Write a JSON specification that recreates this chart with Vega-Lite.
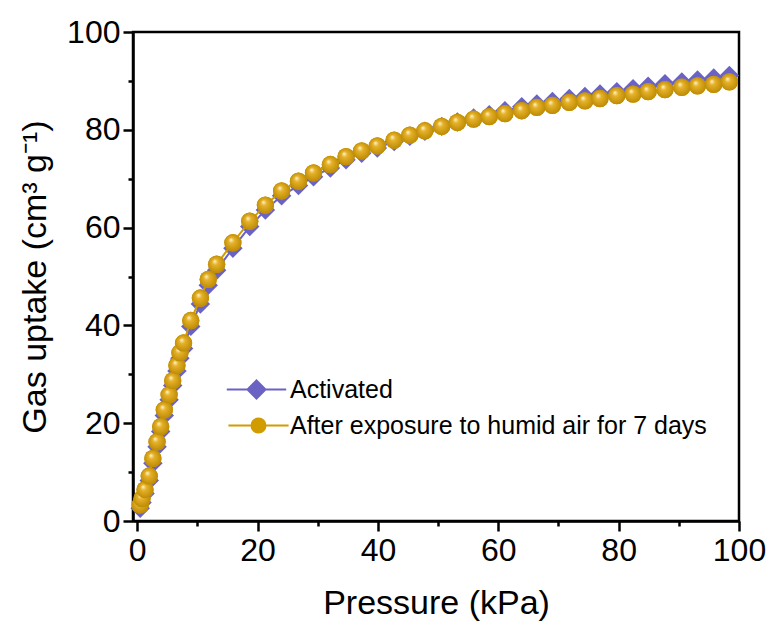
{
  "$schema": "https://vega.github.io/schema/vega-lite/v6.json",
  "width": 606,
  "height": 489,
  "autosize": "none",
  "padding": {"left": 133, "top": 32, "right": 31, "bottom": 105},
  "background": "white",
  "config": {
    "font": "Liberation Sans",
    "view": {"stroke": "black", "strokeWidth": 2.5},
    "axis": {
      "domainColor": "black", "domainWidth": 2.5,
      "tickColor": "black", "tickWidth": 2.5,
      "labelColor": "black", "titleColor": "black",
      "labelFont": "Liberation Sans", "titleFont": "Liberation Sans",
      "labelFontSize": 32, "titleFontSize": 34, "titleFontWeight": "normal",
      "grid": false, "labelOverlap": false, "labelFlush": false
    }
  },
  "datasets": {
    "iso": [
      {"series": "Activated", "p": 0.5, "u": 2.6},
      {"series": "Activated", "p": 0.8, "u": 3.8},
      {"series": "Activated", "p": 1.3, "u": 5.6},
      {"series": "Activated", "p": 2.0, "u": 8.3},
      {"series": "Activated", "p": 2.6, "u": 11.8},
      {"series": "Activated", "p": 3.3, "u": 15.2},
      {"series": "Activated", "p": 3.9, "u": 18.3},
      {"series": "Activated", "p": 4.5, "u": 21.6},
      {"series": "Activated", "p": 5.3, "u": 24.8},
      {"series": "Activated", "p": 5.9, "u": 27.7},
      {"series": "Activated", "p": 6.6, "u": 30.7},
      {"series": "Activated", "p": 7.1, "u": 33.3},
      {"series": "Activated", "p": 7.7, "u": 35.3},
      {"series": "Activated", "p": 8.9, "u": 39.8},
      {"series": "Activated", "p": 10.5, "u": 44.4},
      {"series": "Activated", "p": 11.8, "u": 48.2},
      {"series": "Activated", "p": 13.2, "u": 51.3},
      {"series": "Activated", "p": 15.9, "u": 55.8},
      {"series": "Activated", "p": 18.7, "u": 60.2},
      {"series": "Activated", "p": 21.3, "u": 63.6},
      {"series": "Activated", "p": 24.0, "u": 66.5},
      {"series": "Activated", "p": 26.8, "u": 68.6},
      {"series": "Activated", "p": 29.3, "u": 70.4},
      {"series": "Activated", "p": 32.1, "u": 72.2},
      {"series": "Activated", "p": 34.7, "u": 73.9},
      {"series": "Activated", "p": 37.3, "u": 75.2},
      {"series": "Activated", "p": 39.9, "u": 76.3},
      {"series": "Activated", "p": 42.7, "u": 77.6},
      {"series": "Activated", "p": 45.3, "u": 78.7},
      {"series": "Activated", "p": 47.8, "u": 79.7},
      {"series": "Activated", "p": 50.6, "u": 80.7},
      {"series": "Activated", "p": 53.2, "u": 81.6},
      {"series": "Activated", "p": 55.9, "u": 82.4},
      {"series": "Activated", "p": 58.5, "u": 83.1},
      {"series": "Activated", "p": 61.1, "u": 83.9},
      {"series": "Activated", "p": 63.9, "u": 84.7},
      {"series": "Activated", "p": 66.4, "u": 85.3},
      {"series": "Activated", "p": 69.0, "u": 85.8},
      {"series": "Activated", "p": 71.8, "u": 86.4},
      {"series": "Activated", "p": 74.4, "u": 86.8},
      {"series": "Activated", "p": 76.9, "u": 87.3},
      {"series": "Activated", "p": 79.7, "u": 87.8},
      {"series": "Activated", "p": 82.4, "u": 88.4},
      {"series": "Activated", "p": 84.9, "u": 88.9},
      {"series": "Activated", "p": 87.7, "u": 89.4},
      {"series": "Activated", "p": 90.5, "u": 89.8},
      {"series": "Activated", "p": 93.1, "u": 90.2},
      {"series": "Activated", "p": 95.8, "u": 90.6},
      {"series": "Activated", "p": 98.4, "u": 91.1},
      {"series": "After exposure to humid air for 7 days", "p": 0.5, "u": 3.3},
      {"series": "After exposure to humid air for 7 days", "p": 0.8, "u": 4.6},
      {"series": "After exposure to humid air for 7 days", "p": 1.3, "u": 6.4},
      {"series": "After exposure to humid air for 7 days", "p": 2.0, "u": 9.2},
      {"series": "After exposure to humid air for 7 days", "p": 2.6, "u": 12.8},
      {"series": "After exposure to humid air for 7 days", "p": 3.3, "u": 16.2},
      {"series": "After exposure to humid air for 7 days", "p": 3.9, "u": 19.3},
      {"series": "After exposure to humid air for 7 days", "p": 4.5, "u": 22.7},
      {"series": "After exposure to humid air for 7 days", "p": 5.3, "u": 25.8},
      {"series": "After exposure to humid air for 7 days", "p": 5.9, "u": 28.7},
      {"series": "After exposure to humid air for 7 days", "p": 6.6, "u": 31.8},
      {"series": "After exposure to humid air for 7 days", "p": 7.1, "u": 34.4},
      {"series": "After exposure to humid air for 7 days", "p": 7.7, "u": 36.4},
      {"series": "After exposure to humid air for 7 days", "p": 8.9, "u": 41.0},
      {"series": "After exposure to humid air for 7 days", "p": 10.5, "u": 45.6},
      {"series": "After exposure to humid air for 7 days", "p": 11.8, "u": 49.4},
      {"series": "After exposure to humid air for 7 days", "p": 13.2, "u": 52.5},
      {"series": "After exposure to humid air for 7 days", "p": 15.9, "u": 56.9},
      {"series": "After exposure to humid air for 7 days", "p": 18.7, "u": 61.3},
      {"series": "After exposure to humid air for 7 days", "p": 21.3, "u": 64.6},
      {"series": "After exposure to humid air for 7 days", "p": 24.0, "u": 67.5},
      {"series": "After exposure to humid air for 7 days", "p": 26.8, "u": 69.5},
      {"series": "After exposure to humid air for 7 days", "p": 29.3, "u": 71.2},
      {"series": "After exposure to humid air for 7 days", "p": 32.1, "u": 72.9},
      {"series": "After exposure to humid air for 7 days", "p": 34.7, "u": 74.5},
      {"series": "After exposure to humid air for 7 days", "p": 37.3, "u": 75.7},
      {"series": "After exposure to humid air for 7 days", "p": 39.9, "u": 76.7},
      {"series": "After exposure to humid air for 7 days", "p": 42.7, "u": 77.9},
      {"series": "After exposure to humid air for 7 days", "p": 45.3, "u": 78.9},
      {"series": "After exposure to humid air for 7 days", "p": 47.8, "u": 79.8},
      {"series": "After exposure to humid air for 7 days", "p": 50.6, "u": 80.7},
      {"series": "After exposure to humid air for 7 days", "p": 53.2, "u": 81.5},
      {"series": "After exposure to humid air for 7 days", "p": 55.9, "u": 82.2},
      {"series": "After exposure to humid air for 7 days", "p": 58.5, "u": 82.7},
      {"series": "After exposure to humid air for 7 days", "p": 61.1, "u": 83.3},
      {"series": "After exposure to humid air for 7 days", "p": 63.9, "u": 83.9},
      {"series": "After exposure to humid air for 7 days", "p": 66.4, "u": 84.6},
      {"series": "After exposure to humid air for 7 days", "p": 69.0, "u": 85.0},
      {"series": "After exposure to humid air for 7 days", "p": 71.8, "u": 85.6},
      {"series": "After exposure to humid air for 7 days", "p": 74.4, "u": 85.9},
      {"series": "After exposure to humid air for 7 days", "p": 76.9, "u": 86.4},
      {"series": "After exposure to humid air for 7 days", "p": 79.7, "u": 87.0},
      {"series": "After exposure to humid air for 7 days", "p": 82.4, "u": 87.3},
      {"series": "After exposure to humid air for 7 days", "p": 84.9, "u": 87.8},
      {"series": "After exposure to humid air for 7 days", "p": 87.7, "u": 88.2},
      {"series": "After exposure to humid air for 7 days", "p": 90.5, "u": 88.7},
      {"series": "After exposure to humid air for 7 days", "p": 93.1, "u": 89.0},
      {"series": "After exposure to humid air for 7 days", "p": 95.8, "u": 89.3},
      {"series": "After exposure to humid air for 7 days", "p": 98.4, "u": 89.8}
    ]
  },
  "data": {"name": "iso"},
  "encoding": {
    "x": {
      "field": "p", "type": "quantitative",
      "scale": {"domain": [-0.7, 100], "nice": false, "zero": false},
      "axis": {
        "title": "Pressure (kPa)",
        "values": [0, 10, 20, 30, 40, 50, 60, 70, 80, 90, 100],
        "labelExpr": "datum.value % 20 === 0 ? datum.label : ''",
        "tickSize": {"condition": {"test": "datum.value % 20 === 0", "value": 10}, "value": 5},
        "labelPadding": 4,
        "titlePadding": 20
      }
    },
    "y": {
      "field": "u", "type": "quantitative",
      "scale": {"domain": [0, 100], "nice": false},
      "axis": {
        "title": "Gas uptake (cm³ g⁻¹)",
        "values": [0, 10, 20, 30, 40, 50, 60, 70, 80, 90, 100],
        "labelExpr": "datum.value % 20 === 0 ? datum.label : ''",
        "tickSize": {"condition": {"test": "datum.value % 20 === 0", "value": 10}, "value": 5},
        "labelPadding": 3,
        "titlePadding": 14
      }
    }
  },
  "layer": [
    {
      "transform": [{"filter": "datum.series === 'Activated'"}],
      "mark": {"type": "line", "color": "#6b63c4", "strokeWidth": 2}
    },
    {
      "transform": [{"filter": "datum.series === 'Activated'"}],
      "mark": {"type": "point", "shape": "diamond", "filled": true, "size": 380, "opacity": 1},
      "encoding": {
        "color": {
          "field": "series", "type": "nominal",
          "scale": {"domain": ["Activated"], "range": ["#6b63c4"]},
          "legend": {
            "title": null, "orient": "none", "legendX": 111, "legendY": 345, "padding": 0,
            "symbolType": "M-3.3,0L-1,0M1,0L3.3,0M0,-1L1,0L0,1L-1,0Z",
            "symbolSize": 324, "symbolStrokeColor": "#6b63c4", "symbolStrokeWidth": 2,
            "symbolOpacity": 1, "labelLimit": 0,
            "labelFontSize": 25, "labelColor": "black", "labelOffset": 21, "labelFont": "Liberation Sans"
          }
        }
      }
    },
    {
      "transform": [{"filter": "datum.series !== 'Activated'"}],
      "mark": {"type": "line", "color": "#d19c00", "strokeWidth": 2}
    },
    {
      "transform": [{"filter": "datum.series !== 'Activated'"}],
      "mark": {"type": "point", "shape": "circle", "filled": true, "size": 300, "opacity": 1},
      "encoding": {
        "color": {
          "field": "series", "type": "nominal",
          "scale": {"domain": ["After exposure to humid air for 7 days"], "range": ["#d19c00"]},
          "legend": {
            "title": null, "orient": "none", "legendX": 113, "legendY": 381, "padding": 0,
            "symbolType": "M-4.3,0L-1,0M1,0L4.3,0M-1,0A1,1,0,1,1,1,0A1,1,0,1,1,-1,0Z",
            "symbolSize": 196, "symbolStrokeColor": "#d19c00", "symbolStrokeWidth": 2,
            "symbolOpacity": 1, "labelLimit": 0,
            "labelFontSize": 25, "labelColor": "black", "labelOffset": 19, "labelFont": "Liberation Sans"
          }
        }
      }
    },
    {
      "transform": [{"filter": "datum.series !== 'Activated'"}],
      "mark": {
        "type": "point", "shape": "circle", "size": 300, "opacity": 1, "strokeWidth": 0,
        "fill": {
          "gradient": "radial", "x1": 0.38, "y1": 0.32, "r1": 0, "x2": 0.5, "y2": 0.5, "r2": 0.55,
          "stops": [
            {"offset": 0, "color": "#fff7d6"},
            {"offset": 0.3, "color": "#e6b22a"},
            {"offset": 1, "color": "#b98700"}
          ]
        }
      }
    },
    {
      "data": {"values": [{}]},
      "mark": {"type": "text", "text": "298 K", "fontSize": 33, "align": "left", "baseline": "middle", "color": "black", "font": "Liberation Sans"},
      "encoding": {"x": {"datum": 6.8}, "y": {"datum": 89.3}}
    }
  ],
  "resolve": {"scale": {"color": "independent"}, "legend": {"color": "independent"}}
}
